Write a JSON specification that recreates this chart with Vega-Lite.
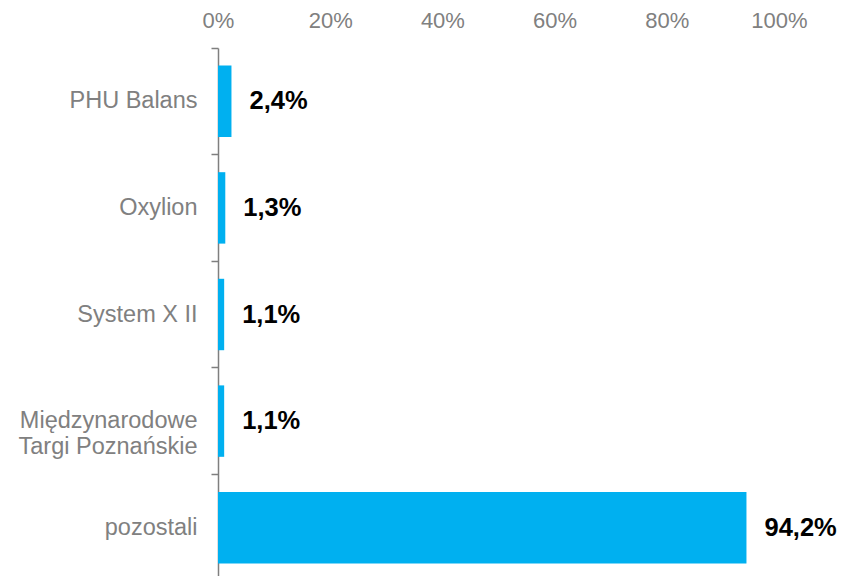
{
  "$schema": "https://vega.github.io/schema/vega-lite/v6.json",
  "autosize": {"type": "none"},
  "width": 561,
  "height": 528,
  "padding": {"left": 218, "top": 48, "right": 64, "bottom": 0},
  "background": "white",
  "config": {
    "view": {"stroke": null},
    "font": "Liberation Sans"
  },
  "data": {
    "values": [
      {"firma": "PHU Balans", "udzial": 2.4, "label": "2,4%"},
      {"firma": "Oxylion", "udzial": 1.3, "label": "1,3%"},
      {"firma": "System X II", "udzial": 1.1, "label": "1,1%"},
      {"firma": "Międzynarodowe Targi Poznańskie", "udzial": 1.1, "label": "1,1%"},
      {"firma": "pozostali", "udzial": 94.2, "label": "94,2%"}
    ]
  },
  "encoding": {
    "y": {
      "field": "firma",
      "type": "nominal",
      "sort": null,
      "scale": {"range": [0, 533], "paddingInner": 0, "paddingOuter": 0},
      "axis": {
        "title": null,
        "bandPosition": 0,
        "domainColor": "#7f7f7f",
        "domainWidth": 1.5,
        "tickColor": "#7f7f7f",
        "tickWidth": 1.5,
        "tickSize": 7,
        "labelPadding": 14,
        "labelColor": "#808080",
        "labelFont": "Liberation Sans",
        "labelFontSize": 23.5,
        "labelLineHeight": 26,
        "labelLimit": 300,
        "grid": false,
        "labelExpr": "datum.label == 'Międzynarodowe Targi Poznańskie' ? ['Międzynarodowe', 'Targi Poznańskie'] : datum.label"
      }
    }
  },
  "layer": [
    {
      "mark": {"type": "bar", "color": "#00B0F0", "height": {"band": 0.67}},
      "encoding": {
        "x": {
          "field": "udzial",
          "type": "quantitative",
          "scale": {"domain": [0, 100], "nice": false},
          "axis": {
            "orient": "top",
            "title": null,
            "values": [0, 20, 40, 60, 80, 100],
            "labelExpr": "datum.value + '%'",
            "domain": false,
            "ticks": false,
            "grid": false,
            "labelPadding": 16,
            "labelColor": "#808080",
            "labelFont": "Liberation Sans",
            "labelFontSize": 22,
            "labelFlush": false,
            "labelOverlap": false
          }
        }
      }
    },
    {
      "mark": {"type": "text", "align": "left", "baseline": "middle", "dx": 18, "fontSize": 25.5, "fontWeight": "bold", "color": "#000000", "font": "Liberation Sans"},
      "encoding": {
        "x": {"field": "udzial", "type": "quantitative"},
        "text": {"field": "label"}
      }
    }
  ]
}
